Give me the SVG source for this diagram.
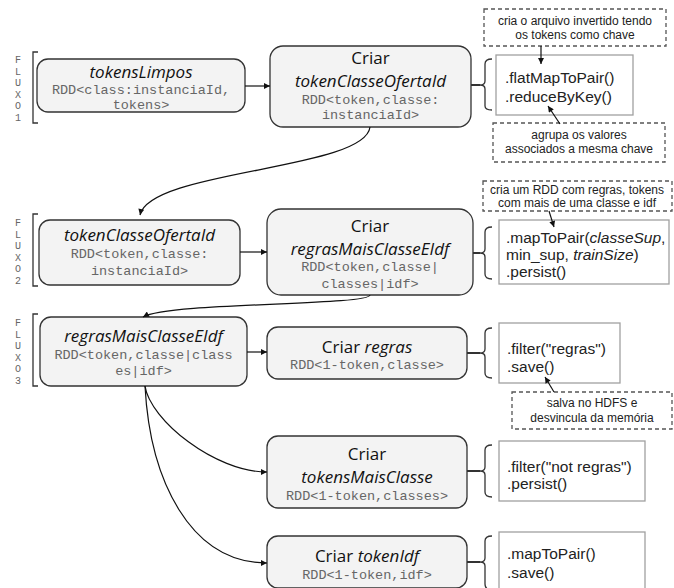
<svg xmlns="http://www.w3.org/2000/svg" width="674" height="588" viewBox="0 0 674 588">
<style>
.node{fill:#f3f3f3;stroke:#333;stroke-width:1.3}
.box{fill:#fff;stroke:#a0a0a0;stroke-width:1.3}
.dash{fill:#fff;stroke:#555;stroke-width:1.3;stroke-dasharray:4 3}
.brace{fill:none;stroke:#333;stroke-width:1.3}
.link{fill:none;stroke:#333;stroke-width:2}
.conn{fill:none;stroke:#111;stroke-width:1.2}
.title{font-family:"Open Sans","Noto Sans",sans-serif;font-size:17px;fill:#111;text-anchor:middle}
.it{font-style:italic}
.rdd{font-family:"Liberation Mono",monospace;font-size:13.5px;fill:#666;text-anchor:middle}
.code{font-family:"Liberation Sans",Arial,sans-serif;font-size:15.5px;fill:#222}
.note{font-family:"Liberation Sans",Arial,sans-serif;font-size:12px;fill:#222;text-anchor:middle}
.flux{font-family:"Liberation Mono",monospace;font-size:10px;fill:#666;text-anchor:middle}
</style>
<defs>
<marker id="ah" viewBox="0 0 10 10" refX="10" refY="5" markerWidth="7" markerHeight="6" markerUnits="userSpaceOnUse" orient="auto">
<path d="M0,0 L10,5 L0,10 z" fill="#111"/>
</marker>
</defs>

<g id="fluxo1">
<path class="brace" d="M38,52 L33,52 L33,123 L38,123"/>
<text class="flux"><tspan x="18" y="63">F</tspan><tspan x="18" y="74.5">L</tspan><tspan x="18" y="86">U</tspan><tspan x="18" y="97.5">X</tspan><tspan x="18" y="109">O</tspan><tspan x="18" y="120.5">1</tspan></text>
</g>
<g id="fluxo2">
<path class="brace" d="M38,214 L33,214 L33,286 L38,286"/>
<text class="flux"><tspan x="18" y="226">F</tspan><tspan x="18" y="237.5">L</tspan><tspan x="18" y="249">U</tspan><tspan x="18" y="260.5">X</tspan><tspan x="18" y="272">O</tspan><tspan x="18" y="283.5">2</tspan></text>
</g>
<g id="fluxo3">
<path class="brace" d="M38,314 L33,314 L33,386 L38,386"/>
<text class="flux"><tspan x="18" y="326">F</tspan><tspan x="18" y="337.5">L</tspan><tspan x="18" y="349">U</tspan><tspan x="18" y="360.5">X</tspan><tspan x="18" y="372">O</tspan><tspan x="18" y="383.5">3</tspan></text>
</g>

<g id="n1">
<rect class="node" x="37" y="59" width="208" height="53" rx="11"/>
<text class="title it" x="141" y="78">tokensLimpos</text>
<text class="rdd" x="141" y="94">RDD&lt;class:instanciaId,</text>
<text class="rdd" x="141" y="109">tokens&gt;</text>
</g>
<g id="n2">
<rect class="node" x="270" y="46" width="201" height="81" rx="13"/>
<text class="title" x="370.5" y="63.8">Criar</text>
<text class="title it" x="370.5" y="87">tokenClasseOfertaId</text>
<text class="rdd" x="370.5" y="103.5">RDD&lt;token,classe:</text>
<text class="rdd" x="370.5" y="119">instanciaId&gt;</text>
</g>
<g id="n3">
<rect class="node" x="39" y="220" width="201" height="65" rx="11"/>
<text class="title it" x="139.5" y="241">tokenClasseOfertaId</text>
<text class="rdd" x="139.5" y="258">RDD&lt;token,classe:</text>
<text class="rdd" x="139.5" y="275">instanciaId&gt;</text>
</g>
<g id="n4">
<rect class="node" x="267" y="209" width="206" height="86" rx="14"/>
<text class="title" x="370" y="231.8">Criar</text>
<text class="title it" x="370" y="255">regrasMaisClasseEIdf</text>
<text class="rdd" x="370" y="271">RDD&lt;token,classe|</text>
<text class="rdd" x="370" y="287.5">classes|idf&gt;</text>
</g>
<g id="n5">
<rect class="node" x="40" y="317" width="207" height="69" rx="11"/>
<text class="title it" x="143.5" y="342">regrasMaisClasseEIdf</text>
<text class="rdd" x="143.5" y="359">RDD&lt;token,classe|class</text>
<text class="rdd" x="143.5" y="375">es|idf&gt;</text>
</g>
<g id="n6">
<rect class="node" x="267" y="327" width="200" height="52" rx="11"/>
<text class="title" x="367" y="353">Criar <tspan class="it">regras</tspan></text>
<text class="rdd" x="367" y="369">RDD&lt;1-token,classe&gt;</text>
</g>
<g id="n7">
<rect class="node" x="267" y="436" width="200" height="72" rx="11"/>
<text class="title" x="367" y="459.8">Criar</text>
<text class="title it" x="367" y="483">tokensMaisClasse</text>
<text class="rdd" x="367" y="499.5">RDD&lt;1-token,classes&gt;</text>
</g>
<g id="n8">
<rect class="node" x="267" y="536" width="200" height="52" rx="11"/>
<text class="title" x="367" y="562">Criar <tspan class="it">tokenIdf</tspan></text>
<text class="rdd" x="367" y="579">RDD&lt;1-token,idf&gt;</text>
</g>

<g id="op1">
<path class="brace" d="M492,59 Q485,59 485,64 L485,81 Q485,85 480,85 Q485,85 485,89 L485,106 Q485,110 492,110"/>
<rect class="box" x="496" y="55" width="137" height="60"/>
<text class="code" x="505" y="83">.flatMapToPair()</text>
<text class="code" x="505" y="102">.reduceByKey()</text>
</g>
<g id="op2">
<path class="brace" d="M492,227 Q485,227 485,232 L485,249 Q485,253 480,253 Q485,253 485,257 L485,274 Q485,279 492,279"/>
<rect class="box" x="499" y="220" width="170" height="64"/>
<text class="code" x="506" y="243">.mapToPair(<tspan class="it">classeSup</tspan>,</text>
<text class="code" x="506" y="260">min_sup, <tspan class="it">trainSize</tspan>)</text>
<text class="code" x="506" y="277">.persist()</text>
</g>
<g id="op3">
<path class="brace" d="M492,328 Q485,328 485,333 L485,349 Q485,353 480,353 Q485,353 485,357 L485,373 Q485,378 492,378"/>
<rect class="box" x="499" y="323" width="121" height="60"/>
<text class="code" x="507" y="354">.filter("regras")</text>
<text class="code" x="507" y="372">.save()</text>
</g>
<g id="op4">
<path class="brace" d="M492,445 Q485,445 485,450 L485,467 Q485,471 480,471 Q485,471 485,475 L485,492 Q485,497 492,497"/>
<rect class="box" x="499" y="441" width="146" height="60"/>
<text class="code" x="507" y="472">.filter("not regras")</text>
<text class="code" x="507" y="489">.persist()</text>
</g>
<g id="op5">
<path class="brace" d="M492,536 Q485,536 485,541 L485,558 Q485,562 480,562 Q485,562 485,566 L485,584 Q485,590 492,590"/>
<rect class="box" x="499" y="532" width="146" height="60"/>
<text class="code" x="507" y="559">.mapToPair()</text>
<text class="code" x="507" y="578">.save()</text>
</g>

<g id="note1">
<rect class="dash" x="484" y="9" width="182" height="37"/>
<text class="note" x="575" y="25">cria o arquivo invertido tendo</text>
<text class="note" x="575" y="39">os tokens como chave</text>
</g>
<g id="note2">
<rect class="dash" x="493" y="123" width="172" height="39"/>
<text class="note" x="579" y="139">agrupa os valores</text>
<text class="note" x="579" y="153">associados a mesma chave</text>
</g>
<g id="note3">
<rect class="dash" x="483" y="181" width="189" height="30"/>
<text class="note" x="577" y="194">cria um RDD com regras, tokens</text>
<text class="note" x="577" y="207">com mais de uma classe e idf</text>
</g>
<g id="note4">
<rect class="dash" x="512" y="392" width="160" height="37"/>
<text class="note" x="592" y="407">salva no HDFS e</text>
<text class="note" x="592" y="422">desvincula da memória</text>
</g>

<g id="connectors">
<line class="conn" x1="245" y1="86" x2="270" y2="86" marker-end="url(#ah)"/>
<line class="conn" x1="240" y1="252" x2="267" y2="252" marker-end="url(#ah)"/>
<line class="conn" x1="247" y1="352" x2="267" y2="352" marker-end="url(#ah)"/>
<path class="conn" d="M370,127 C365,170 150,170 140,215" marker-end="url(#ah)"/>
<path class="conn" d="M370,295 C368,306 170,302 143,317" marker-end="url(#ah)"/>
<path class="conn" d="M145,386 C150,420 215,472 267,472" marker-end="url(#ah)"/>
<path class="conn" d="M145,386 C150,480 190,563 267,563" marker-end="url(#ah)"/>
<line class="link" x1="471" y1="85" x2="480" y2="85"/>
<line class="link" x1="473" y1="253" x2="480" y2="253"/>
<line class="link" x1="467" y1="353" x2="480" y2="353"/>
<line class="link" x1="467" y1="471" x2="480" y2="471"/>
<line class="link" x1="467" y1="562" x2="480" y2="562"/>
<line class="conn" x1="541" y1="46" x2="541" y2="64" marker-end="url(#ah)"/>
<line class="conn" x1="560" y1="124" x2="548" y2="106" marker-end="url(#ah)"/>
<line class="conn" x1="549" y1="211" x2="554" y2="227" marker-end="url(#ah)"/>
<line class="conn" x1="554" y1="392" x2="545" y2="377" marker-end="url(#ah)"/>
</g>
</svg>
